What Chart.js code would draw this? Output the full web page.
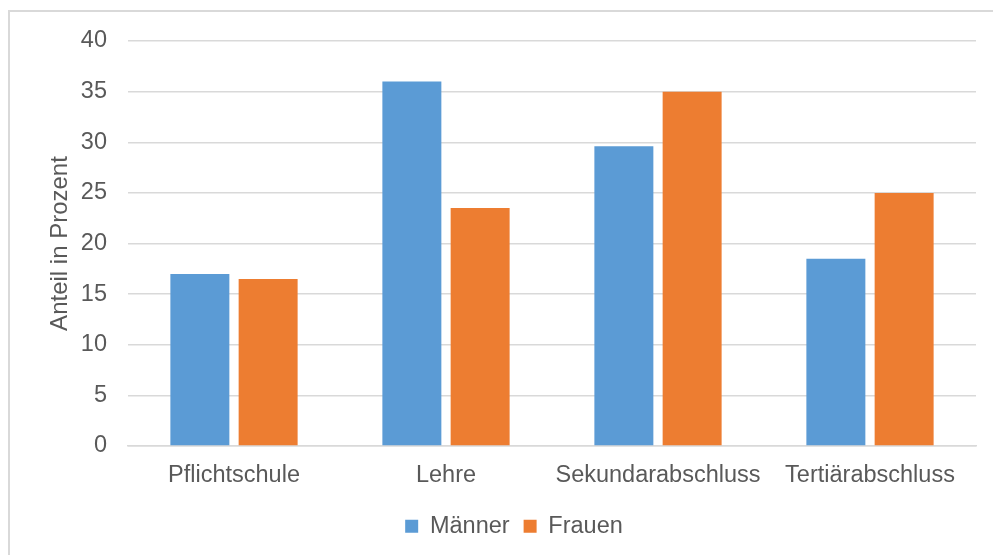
<!DOCTYPE html>
<html lang="de">
<head>
<meta charset="utf-8">
<title>Bildungsabschluss nach Geschlecht</title>
<script src="https://cdn.jsdelivr.net/npm/chart.js@4"></script>
<style>
  html, body { margin: 0; padding: 0; background: #fff; overflow: hidden; }
  #rahmen {
    position: absolute; left: 8px; top: 10px;
    width: 1000px; height: 560px;
    border: 2px solid #d9d9d9;
  }
  #wrap { position: absolute; left: 0; top: 0; width: 993px; height: 555px; }
</style>
</head>
<body>
<div id="rahmen"></div>
<div id="wrap"><canvas id="myChart"></canvas></div>
<script>
// Kategorien und Werte (Anteil in Prozent)
const kategorien = ["Pflichtschule", "Lehre", "Sekundarabschluss", "Tertiärabschluss"];
const maenner = [17, 36, 29.6, 18.5];
const frauen = [16.5, 23.5, 35, 25];
const yTicks = [0, 5, 10, 15, 20, 25, 30, 35, 40];

const schrift = "'Liberation Sans', Arial, sans-serif";
const grau = '#595959';

Chart.defaults.font.family = schrift;
Chart.defaults.color = grau;

// Legende etwas nach rechts schieben
const legendeVerschieben = {
  id: 'legendeVerschieben',
  afterLayout(chart) {
    chart.legend.left += 26;
    chart.legend.right += 26;
  }
};

const data = {
  labels: kategorien,
  datasets: [{
    label: 'Männer',
    data: maenner,
    backgroundColor: '#5b9bd5',
    categoryPercentage: 0.644,
    barPercentage: 0.864
  }, {
    label: 'Frauen',
    data: frauen,
    backgroundColor: '#ed7d31',
    categoryPercentage: 0.644,
    barPercentage: 0.864
  }]
};

const config = {
  type: 'bar',
  data: data,
  plugins: [legendeVerschieben],
  options: {
    responsive: true,
    maintainAspectRatio: false,
    animation: false,
    layout: { padding: { left: 0, right: 17, top: 41, bottom: 7 } },
    plugins: {
      tooltip: { enabled: false },
      legend: {
        position: 'bottom',
        labels: {
          boxWidth: 13,
          boxHeight: 13,
          padding: 14,
          font: { size: 23.5 },
          color: grau
        }
      }
    },
    scales: {
      x: {
        grid: { display: false, drawTicks: false },
        border: { color: '#d9d9d9', width: 1.5 },
        ticks: { font: { size: 23.5 }, color: grau, padding: 15, maxRotation: 0 },
        afterFit: s => { s.height = 54.5; }
      },
      y: {
        min: 0,
        max: 40,
        afterBuildTicks: s => { s.ticks = yTicks.map(v => ({ value: v })); },
        grid: { color: '#d9d9d9', lineWidth: 1.5, drawTicks: false },
        border: { display: false },
        ticks: { font: { size: 23.5 }, color: grau, padding: 21 },
        title: {
          display: true,
          text: 'Anteil in Prozent',
          font: { size: 24 },
          color: grau,
          padding: { top: 46, bottom: 0 }
        },
        afterFit: s => { s.width = 128; }
      }
    }
  }
};

var myChart = new Chart(document.getElementById('myChart'), config);
</script>
</body>
</html>
